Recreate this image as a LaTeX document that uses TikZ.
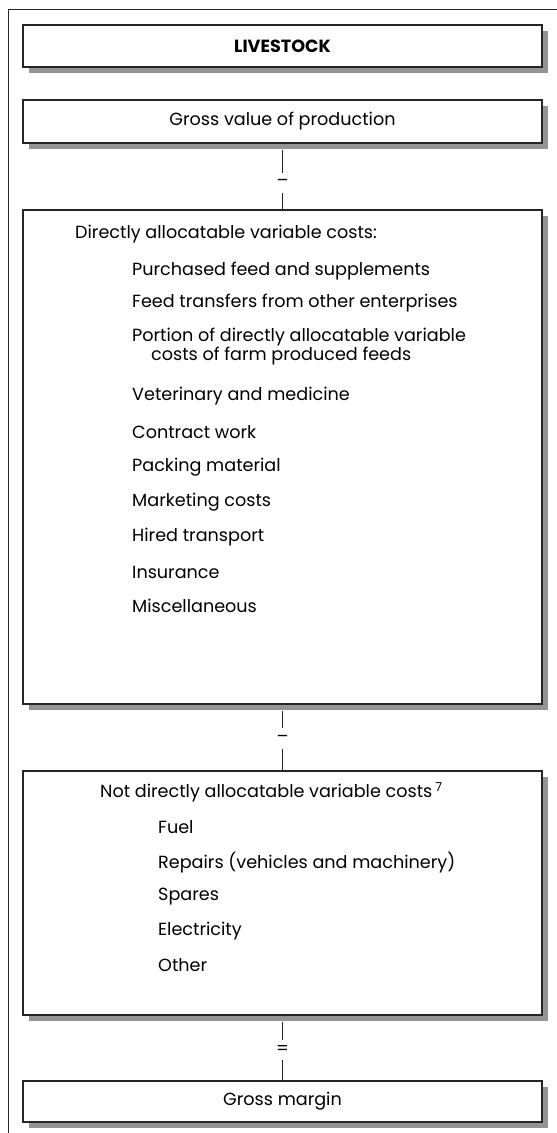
\documentclass[tikz,border=0pt]{standalone}
\usepackage{fontspec}
\setmainfont{Poppins}
\usepackage{tikz}
\usetikzlibrary{shadows}

\begin{document}
\begin{tikzpicture}[x=1pt,y=-1pt,
  box/.style={draw=black!85,line width=1.3pt,fill=white,minimum width=519pt,inner sep=0pt,
    font=\fontsize{17.6}{19}\selectfont,
    drop shadow={shadow xshift=6pt,shadow yshift=-6pt,fill=black!42,opacity=1}},
  item/.style={anchor=west,inner sep=0pt,align=left,font=\fontsize{17.6}{19}\selectfont},
  op/.style={inner sep=0pt,minimum height=20pt,font=\fontsize{17.6}{19}\selectfont},
  link/.style={draw=black!85,line width=1pt}]
\useasboundingbox (0,0) rectangle (557,1133);
\draw[line width=1.2pt,black!85] (557,9.5) -| (8.5,1133);
% boxes
\node[box,minimum height=42pt] (live) at (282.5,46) {\textbf{LIVESTOCK}};
\node[box,minimum height=43pt] (gross) at (282.5,121.5) {Gross value of production};
\node[box,minimum height=494pt] (direct) at (282.5,457) {};
\node[box,minimum height=244pt] (notdir) at (282.5,893) {};
\node[box,minimum height=41pt] (margin) at (282.5,1101.5) {Gross margin};
% operators
\node[op] (minus1) at (282.5,183) {–};
\node[op] (minus2) at (282.5,738.5) {–};
\node[op] (equal) at (282.5,1050) {=};
\draw[link] ([yshift=-6pt]gross.south) -- (minus1) -- (direct);
\draw[link] ([yshift=-6pt]direct.south) -- (minus2) -- (notdir);
\draw[link] ([yshift=-6pt]notdir.south) -- (equal) -- (margin);
% directly allocatable
\node[item] (dhead) at (75,234) {Directly allocatable variable costs:};
\node[item] (d1) at (132,271) {Purchased feed and supplements};
\node[item] (d2) at (132,303) {Feed transfers from other enterprises};
\node[item] (d3) at (132,346.5) {Portion of directly allocatable variable\\\hspace*{19pt}costs of farm produced feeds};
\node[item] (d4) at (132,396) {Veterinary and medicine};
\node[item] (d5) at (132,432) {Contract work};
\node[item] (d6) at (132,467) {Packing material};
\node[item] (d7) at (132,502) {Marketing costs};
\node[item] (d8) at (132,537) {Hired transport};
\node[item] (d9) at (132,572) {Insurance};
\node[item] (d10) at (132,606) {Miscellaneous};
% not directly allocatable
\node[item] (nhead) at (100,792) {Not directly allocatable variable costs\,\textsuperscript{7}};
\node[item] (n1) at (158,827) {Fuel};
\node[item] (n2) at (158,863) {Repairs (vehicles and machinery)};
\node[item] (n3) at (158,897) {Spares};
\node[item] (n4) at (158,931) {Electricity};
\node[item] (n5) at (158,965) {Other};
\end{tikzpicture}
\end{document}
